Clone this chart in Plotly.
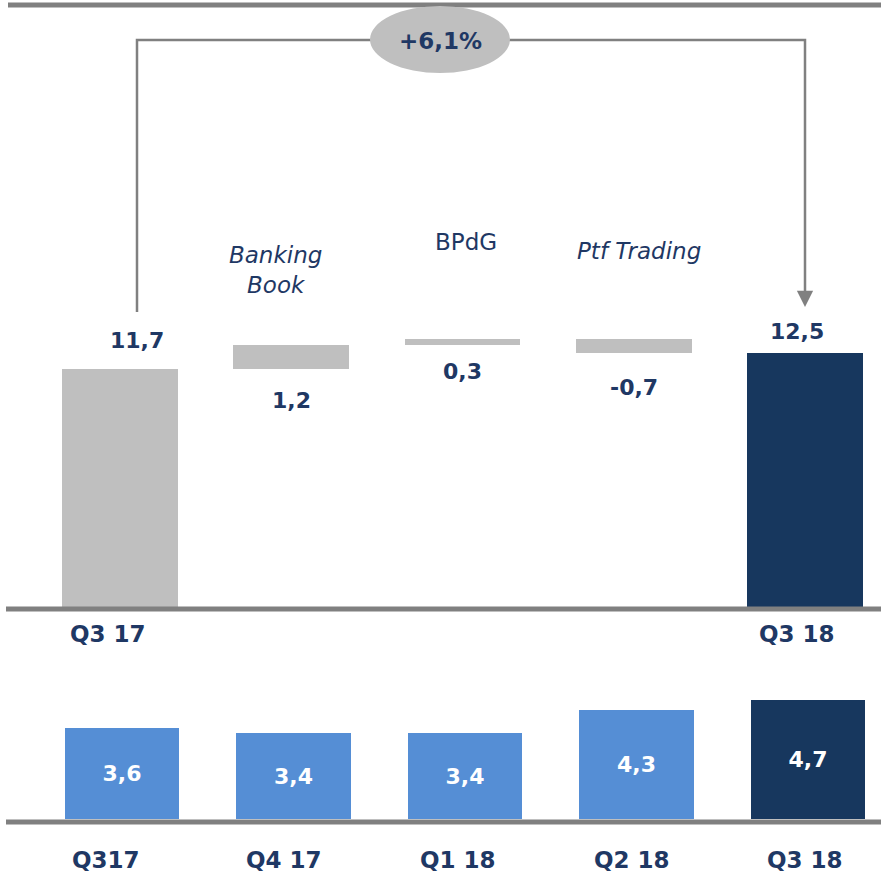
import plotly.graph_objects as go

# ---------------- data ----------------
wf_categories = ["Q3 17", "Banking<br>Book", "BPdG", "Ptf Trading", "Q3 18"]
wf_start = 11.7
wf_deltas = [1.2, 0.3, -0.7]
wf_end = 12.5
wf_labels = ["11,7", "1,2", "0,3", "-0,7", "12,5"]
growth_label = "+6,1%"

q_categories = ["Q317", "Q4 17", "Q1 18", "Q2 18", "Q3 18"]
q_values = [3.6, 3.4, 3.4, 4.3, 4.7]
q_labels = ["3,6", "3,4", "3,4", "4,3", "4,7"]

# ---------------- styles ----------------
W, H = 881, 877
GRAY = "#BFBFBF"
NAVY = "#17375E"
BLUE = "#558ED5"
TXT = "#1F3864"
LINE = "#808080"
FONT = "DejaVu Sans"

def xp(px):
    return px / W

def yp(py):
    return 1 - py / H

# waterfall geometry (bases / heights computed from data)
bases, heights, colors = [0], [wf_start], [GRAY]
run = wf_start
for d in wf_deltas:
    nxt = run + d
    bases.append(min(run, nxt))
    heights.append(abs(d))
    colors.append(GRAY)
    run = nxt
bases.append(0)
heights.append(wf_end)
colors.append(NAVY)
xs = list(range(len(wf_categories)))

fig = go.Figure()
fig.add_trace(go.Bar(
    x=xs, y=heights, base=bases, marker=dict(color=colors, line=dict(width=0)),
    width=0.677, xaxis="x", yaxis="y", hoverinfo="skip", showlegend=False))

fig.add_trace(go.Bar(
    x=list(range(len(q_categories))), y=q_values,
    marker=dict(color=[BLUE] * 4 + [NAVY], line=dict(width=0)),
    width=0.67, text=q_labels, textposition="inside", insidetextanchor="middle",
    textfont=dict(family=FONT, size=22, color="white", weight="bold"),
    xaxis="x2", yaxis="y2", hoverinfo="skip", showlegend=False))

top_scale = 20.3
bot_scale = 25.4
fig.update_layout(
    width=W, height=H, margin=dict(l=0, r=0, t=0, b=0),
    paper_bgcolor="white", plot_bgcolor="white", bargap=0,
    uniformtext=dict(minsize=8, mode="show"),
    xaxis=dict(domain=[0, 1], range=[-120 / 171.25, (W - 120) / 171.25],
               visible=False, fixedrange=True),
    yaxis=dict(domain=[yp(607), 1], range=[0, 607 / top_scale],
               visible=False, fixedrange=True),
    xaxis2=dict(domain=[0, 1], range=[-122 / 171.5, (W - 122) / 171.5],
                visible=False, fixedrange=True, anchor="y2"),
    yaxis2=dict(domain=[yp(819), yp(680)], range=[0, 139 / bot_scale],
                visible=False, fixedrange=True, anchor="x2"),
)

shapes = []
# baselines / top rule
shapes.append(dict(type="line", xref="paper", yref="paper", x0=xp(8), x1=1,
                   y0=yp(5), y1=yp(5), line=dict(color=LINE, width=5)))
shapes.append(dict(type="line", xref="paper", yref="paper", x0=xp(6), x1=1,
                   y0=yp(609), y1=yp(609), line=dict(color=LINE, width=5)))
shapes.append(dict(type="line", xref="paper", yref="paper", x0=xp(6), x1=1,
                   y0=yp(822), y1=yp(822), line=dict(color=LINE, width=5)))
# connector
shapes.append(dict(type="path", xref="paper", yref="paper",
                   path=f"M {xp(137)},{yp(312)} L {xp(137)},{yp(40)} L {xp(805)},{yp(40)} L {xp(805)},{yp(296)}",
                   line=dict(color=LINE, width=2.5)))
# ellipse
shapes.append(dict(type="circle", xref="paper", yref="paper",
                   x0=xp(370), x1=xp(510), y0=yp(73), y1=yp(6),
                   fillcolor=GRAY, line=dict(width=0)))
fig.update_layout(shapes=shapes)

ann = []
# arrowhead
ann.append(dict(xref="paper", yref="paper", x=xp(805), y=yp(307), ax=0, ay=-16,
                axref="pixel", ayref="pixel", showarrow=True, arrowhead=2,
                arrowsize=1.3, arrowwidth=2.5, arrowcolor=LINE, text=""))
ann.append(dict(xref="paper", yref="paper", x=xp(440), y=yp(41), text=f"<b>{growth_label}</b>",
                xanchor="center", yanchor="middle",
                showarrow=False, font=dict(family=FONT, size=23, color=TXT)))

# waterfall value labels
tops = [b + h for b, h in zip(bases, heights)]
lbl_cfg = [  # (anchor y, yshift, xshift)
    (tops[0], 29, 17),
    (bases[1], -31, 0),
    (bases[2], -26, 0),
    (bases[3], -34, 0),
    (tops[4], 22, -8),
]
for i, (yv, ysh, xsh) in enumerate(lbl_cfg):
    ann.append(dict(x=xs[i], y=yv, xref="x", yref="y", text=f"<b>{wf_labels[i]}</b>",
                    showarrow=False, yshift=ysh, xshift=xsh,
                    xanchor="center", yanchor="middle",
                    font=dict(family=FONT, size=22, color=TXT)))

# waterfall category labels
cat_cfg = {
    1: dict(py=270, xshift=-16, italic=True),
    2: dict(py=242, xshift=3, italic=False),
    3: dict(py=251, xshift=5, italic=True),
}
for i, c in cat_cfg.items():
    t = wf_categories[i]
    if c["italic"]:
        t = f"<i>{t}</i>"
    ann.append(dict(x=xs[i], y=yp(c["py"]), xref="x", yref="paper", text=t,
                    showarrow=False, xshift=c["xshift"], xanchor="center", yanchor="middle",
                    font=dict(family=FONT, size=23, color=TXT)))

# waterfall axis labels (ends only)
for i, xsh in ((0, -12), (4, -8)):
    ann.append(dict(x=xs[i], y=yp(634), xref="x", yref="paper", text=f"<b>{wf_categories[i]}</b>",
                    showarrow=False, xshift=xsh, xanchor="center", yanchor="middle",
                    font=dict(family=FONT, size=23, color=TXT)))

# bottom axis labels
bottom_shifts = [-16, -10, -7, -5, -3]
for i, c in enumerate(q_categories):
    ann.append(dict(x=i, y=yp(860), xref="x2", yref="paper", text=f"<b>{c}</b>",
                    showarrow=False, xshift=bottom_shifts[i], xanchor="center", yanchor="middle",
                    font=dict(family=FONT, size=23, color=TXT)))

fig.update_layout(annotations=ann)
fig.write_html("out.html", config={"displayModeBar": False},
               post_script="document.body.style.margin='0';")
